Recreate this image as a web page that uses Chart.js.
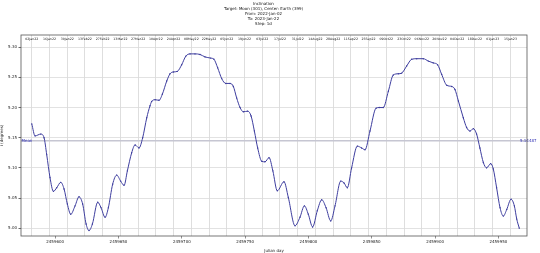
<!DOCTYPE html>
<html>
<head>
<meta charset="utf-8">
<script src="https://cdn.jsdelivr.net/npm/chart.js@4.4.1/dist/chart.umd.min.js"></script>
<style>
html,body{margin:0;padding:0;background:#fff;}
canvas{display:block;}
</style>
</head>
<body>
<canvas id="c" width="540" height="253"></canvas>
<script>
// ---- data ----
const TITLE_LINES = ["Inclination", "Target: Moon (301), Center: Earth (399)", "From: 2022-Jan-02", "To: 2023-Jan-22", "Step: 1d"];

const JD = [
  2459581.5, 2459584.1, 2459588.6, 2459591.2, 2459593.3, 2459595.9, 2459598.6, 2459601.2, 2459604.4, 2459607.0,
  2459609.6, 2459612.3, 2459615.7, 2459618.8, 2459621.7, 2459624.4, 2459626.7, 2459629.4, 2459633.6, 2459636.2,
  2459639.4, 2459642.0, 2459645.4, 2459648.6, 2459651.7, 2459654.4, 2459657.0, 2459660.4, 2459663.1, 2459666.2,
  2459669.1, 2459672.3, 2459674.9, 2459676.2, 2459678.9, 2459682.0, 2459684.6, 2459688.1, 2459690.7, 2459693.3,
  2459696.5, 2459699.9, 2459703.1, 2459706.5, 2459710.4, 2459714.4, 2459718.3, 2459722.8, 2459725.4, 2459728.3,
  2459731.5, 2459734.7, 2459738.1, 2459740.7, 2459743.3, 2459746.0, 2459748.6, 2459752.0, 2459754.7, 2459757.3,
  2459759.9, 2459763.1, 2459765.7, 2459768.9, 2459771.9, 2459775.4, 2459780.7, 2459784.1, 2459789.4, 2459793.3,
  2459796.8, 2459799.9, 2459803.3, 2459807.0, 2459810.5, 2459813.9, 2459817.6, 2459821.0, 2459825.5, 2459828.1,
  2459830.7, 2459834.1, 2459838.6, 2459842.0, 2459844.7, 2459848.6, 2459853.4, 2459856.0, 2459859.1, 2459863.1,
  2459867.0, 2459871.0, 2459873.6, 2459877.6, 2459881.5, 2459885.5, 2459890.7, 2459894.7, 2459898.6, 2459902.0,
  2459905.2, 2459909.2, 2459913.1, 2459915.7, 2459918.4, 2459922.3, 2459924.9, 2459927.6, 2459930.2, 2459932.8,
  2459935.4, 2459938.1, 2459940.7, 2459943.9, 2459946.0, 2459948.6, 2459951.3, 2459953.9, 2459956.6, 2459960.0,
  2459962.6, 2459964.5, 2459966.5
];
const INCLINATION = [
  5.173, 5.153, 5.156, 5.150, 5.122, 5.084, 5.061, 5.067, 5.076, 5.065,
  5.040, 5.023, 5.037, 5.052, 5.040, 5.007, 4.996, 5.007, 5.043, 5.034,
  5.018, 5.034, 5.073, 5.088, 5.078, 5.071, 5.095, 5.125, 5.138, 5.133,
  5.150, 5.183, 5.203, 5.210, 5.213, 5.212, 5.222, 5.244, 5.256, 5.259,
  5.260, 5.271, 5.285, 5.289, 5.289, 5.288, 5.284, 5.282, 5.280, 5.266,
  5.248, 5.240, 5.240, 5.235, 5.216, 5.200, 5.193, 5.194, 5.186, 5.161,
  5.133, 5.111, 5.110, 5.117, 5.095, 5.062, 5.077, 5.051, 5.004, 5.018,
  5.037, 5.023, 5.002, 5.029, 5.047, 5.034, 5.012, 5.037, 5.078, 5.075,
  5.067, 5.100, 5.136, 5.133, 5.130, 5.161, 5.199, 5.200, 5.200, 5.227,
  5.254, 5.256, 5.257, 5.269, 5.280, 5.281, 5.281, 5.277, 5.274, 5.271,
  5.255, 5.237, 5.235, 5.230, 5.211, 5.183, 5.167, 5.161, 5.165, 5.156,
  5.133, 5.109, 5.100, 5.107, 5.098, 5.067, 5.034, 5.020, 5.031, 5.048,
  5.037, 5.015, 5.000
];
const MEAN_VALUE = 5.14487;

const X_TICKS = [2459600, 2459650, 2459700, 2459750, 2459800, 2459850, 2459900, 2459950];
const Y_TICKS = [5.00, 5.05, 5.10, 5.15, 5.20, 5.25, 5.30];

const DATE_TICK_JD = [
  2459581.5, 2459595.5, 2459609.5, 2459623.5, 2459637.5, 2459651.5, 2459665.5, 2459679.5, 2459693.5, 2459707.5,
  2459721.5, 2459735.5, 2459749.5, 2459763.5, 2459777.5, 2459791.5, 2459805.5, 2459819.5, 2459833.5, 2459847.5,
  2459861.5, 2459875.5, 2459889.5, 2459903.5, 2459917.5, 2459931.5, 2459945.5, 2459959.5
];
const DATE_TICK_LABELS = [
  "02Jan22", "16Jan22", "30Jan22", "13Feb22", "27Feb22", "13Mar22", "27Mar22", "10Apr22", "24Apr22", "08May22",
  "22May22", "05Jun22", "19Jun22", "03Jul22", "17Jul22", "31Jul22", "14Aug22", "28Aug22", "11Sep22", "25Sep22",
  "09Oct22", "23Oct22", "06Nov22", "20Nov22", "04Dec22", "18Dec22", "01Jan23", "15Jan23"
];

const X_MIN = 2459573.0, X_MAX = 2459972.6;
const Y_MIN = 4.987, Y_MAX = 5.3203;

const FONT = "'DejaVu Sans', sans-serif";

const overlayPlugin = {
  id: 'overlay',
  afterDatasetsDraw(chart) {
    const ctx = chart.ctx, ca = chart.chartArea;
    const xs = chart.scales.x, ys = chart.scales.y;
    ctx.save();
    // date labels inside top of the plot
    ctx.font = "3.2px " + FONT;
    ctx.fillStyle = '#222';
    ctx.textAlign = 'center';
    ctx.textBaseline = 'top';
    DATE_TICK_JD.forEach((v, i) => {
      ctx.fillText(DATE_TICK_LABELS[i], xs.getPixelForValue(v), ca.top + 2.5);
    });
    // mean labels
    const my = ys.getPixelForValue(MEAN_VALUE);
    ctx.font = "4px " + FONT;
    ctx.fillStyle = '#3232b4';
    ctx.textBaseline = 'middle';
    ctx.textAlign = 'left';
    ctx.fillText('Mean', ca.left + 0.5, my);
    ctx.fillText(MEAN_VALUE.toFixed(5), ca.right - 7, my);
    // frame
    ctx.strokeStyle = '#555';
    ctx.lineWidth = 0.8;
    ctx.strokeRect(ca.left, ca.top, ca.right - ca.left, ca.bottom - ca.top);
    ctx.restore();
  }
};

new Chart(document.getElementById('c'), {
  type: 'line',
  data: {
    datasets: [
      {
        label: 'Inclination',
        data: JD.map((x, i) => ({ x: x, y: INCLINATION[i] })),
        borderColor: '#3d3d9e',
        backgroundColor: '#3d3d9e',
        borderWidth: 1,
        pointRadius: 0.7,
        pointBorderWidth: 0,
        cubicInterpolationMode: 'monotone',
        order: 1
      },
      {
        label: 'Mean',
        data: [{ x: X_MIN, y: MEAN_VALUE }, { x: X_MAX, y: MEAN_VALUE }],
        borderColor: '#c6c6d2',
        borderWidth: 1.5,
        pointRadius: 0,
        order: 2
      }
    ]
  },
  options: {
    responsive: false,
    animation: false,
    devicePixelRatio: 1,
    layout: { padding: { left: 0, right: 13, top: 0, bottom: 0 } },
    plugins: {
      legend: { display: false },
      tooltip: { enabled: false },
      title: {
        display: true,
        text: TITLE_LINES,
        color: '#111',
        font: { family: FONT, size: 4, weight: 'normal', lineHeight: 1.25 },
        padding: { top: 1.5, bottom: 8.5 }
      }
    },
    scales: {
      x: {
        type: 'linear',
        position: 'bottom',
        min: X_MIN, max: X_MAX,
        afterBuildTicks: s => { s.ticks = X_TICKS.map(v => ({ value: v })); },
        afterFit: s => { s.height = 17; },
        ticks: {
          autoSkip: false, maxRotation: 0, padding: 1,
          color: '#222',
          font: { family: FONT, size: 4 },
          callback: v => String(v)
        },
        grid: { drawOnChartArea: false, tickLength: 2.5, color: '#444', lineWidth: 0.6 },
        border: { display: false },
        title: { display: true, text: 'Julian day', color: '#222', font: { family: FONT, size: 4 }, padding: { top: 1, bottom: 0 } }
      },
      x2: {
        type: 'linear',
        position: 'top',
        min: X_MIN, max: X_MAX,
        afterBuildTicks: s => { s.ticks = DATE_TICK_JD.map(v => ({ value: v })); },
        afterFit: s => { s.height = 0; },
        ticks: { display: false },
        grid: { drawOnChartArea: true, drawTicks: false, color: '#d6d6d6', lineWidth: 0.8 },
        border: { display: false }
      },
      y: {
        type: 'linear',
        min: Y_MIN, max: Y_MAX,
        afterBuildTicks: s => { s.ticks = Y_TICKS.map(v => ({ value: v })); },
        afterFit: s => { s.width = 21; },
        ticks: {
          padding: 1.5,
          color: '#222',
          font: { family: FONT, size: 4 },
          callback: v => Number(v).toFixed(2)
        },
        grid: { color: '#dadada', lineWidth: 0.8, tickLength: 2.5, tickColor: '#444' },
        border: { display: false },
        title: { display: true, text: 'i (degrees)', color: '#222', font: { family: FONT, size: 4 }, padding: { top: 0, bottom: 1 } }
      }
    }
  },
  plugins: [overlayPlugin]
});
</script>
</body>
</html>
